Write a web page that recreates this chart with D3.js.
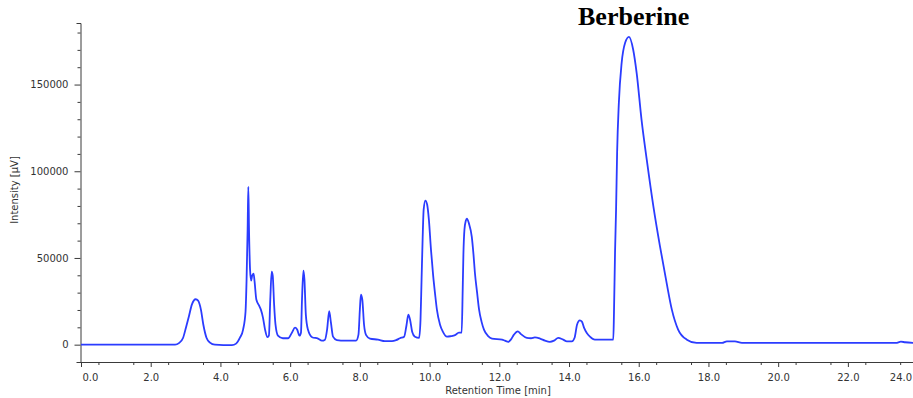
<!DOCTYPE html>
<html>
<head>
<meta charset="utf-8">
<script src="https://cdn.jsdelivr.net/npm/d3@7"></script>
<style>
  body { margin: 0; background: #fff; }
  svg { display: block; }
</style>
</head>
<body>
<svg id="chart" width="913" height="398"></svg>
<script>
// chromatogram: retention time (min) and intensity (µV)
const times = [0, 2.70, 2.81, 2.93, 3.01, 3.10, 3.18, 3.29, 3.36, 3.44, 3.51, 3.60, 3.70, 3.84,
  4.33, 4.45, 4.56, 4.65, 4.72, 4.75, 4.78, 4.80, 4.82, 4.85, 4.88, 4.91, 4.95, 4.98, 5.03, 5.11,
  5.16, 5.22, 5.28, 5.35, 5.39, 5.43, 5.47, 5.50, 5.54, 5.58, 5.65, 5.79, 5.94, 6.05, 6.14, 6.20,
  6.27, 6.31, 6.34, 6.38, 6.41, 6.45, 6.51, 6.63, 6.80, 6.91, 7.00, 7.06, 7.12, 7.17, 7.23, 7.34,
  7.57, 7.89, 7.96, 8.00, 8.03, 8.07, 8.12, 8.18, 8.29, 8.52, 8.72, 8.92, 9.04, 9.15, 9.27, 9.34,
  9.39, 9.44, 9.50, 9.58, 9.70, 9.74, 9.77, 9.80, 9.83, 9.88, 9.93, 9.98, 10.04, 10.10, 10.16,
  10.21, 10.30, 10.38, 10.50, 10.61, 10.73, 10.84, 10.92, 10.95, 10.97, 11.00, 11.04, 11.07,
  11.13, 11.21, 11.26, 11.30, 11.36, 11.42, 11.49, 11.56, 11.68, 11.79, 12.08, 12.16, 12.26,
  12.33, 12.42, 12.53, 12.62, 12.79, 12.91, 13.02, 13.17, 13.31, 13.45, 13.57, 13.69, 13.83,
  13.94, 14.08, 14.16, 14.23, 14.31, 14.37, 14.43, 14.51, 14.60, 14.74, 15.03, 15.27, 15.29,
  15.32, 15.35, 15.38, 15.43, 15.51, 15.61, 15.72, 15.84, 15.94, 16.08, 16.23, 16.42, 16.61,
  16.80, 16.95, 17.13, 17.38, 17.66, 18.39, 18.53, 18.76, 18.96, 23.38, 23.52, 23.64, 23.87];

const intensity = [0, 0, 900, 4000, 9800, 16700, 23100, 26200, 25400, 20200, 11500, 4000, 1200, 0,
  -300, 600, 4000, 8700, 19000, 37500, 66300, 91100, 66300, 43300, 36900, 39800, 41000, 36300,
  26000, 22500, 20200, 15600, 8700, 4300, 5200, 26000, 42100, 39800, 23100, 11500, 5200, 3700,
  3700, 6900, 9800, 8700, 5200, 6900, 26000, 42700, 37500, 17300, 8700, 4300, 3500, 2300, 2900,
  8700, 19300, 12700, 4600, 2600, 2300, 2300, 5800, 20200, 28800, 26000, 11500, 5500, 3500, 2900,
  2000, 2000, 2600, 3700, 4600, 11500, 17300, 14400, 7500, 4600, 3900, 14400, 37500, 60600,
  77900, 83100, 80800, 72100, 54800, 40400, 28800, 20200, 11500, 7500, 4600, 4900, 5500, 6900,
  6900, 31700, 51900, 66300, 71500, 72700, 69800, 62300, 51900, 41500, 30600, 20200, 13300, 8700,
  4900, 3500, 2900, 2300, 1600, 2900, 5800, 7700, 6100, 3900, 3700, 4200, 3500, 2300, 1600, 2300,
  3900, 2900, 1900, 1900, 4000, 11500, 14000, 13300, 9800, 6700, 4600, 2900, 2900, 2900, 18500,
  53100, 77900, 110800, 139600, 162500, 174100, 177500, 170200, 156700, 129800, 106700, 79800,
  56700, 35600, 20200, 8700, 2900, 1000, 1000, 1900, 1900, 1000, 1000, 1700, 1400, 1000];

const xMajor = [0, 2, 4, 6, 8, 10, 12, 14, 16, 18, 20, 22, 24];
const yMajor = [0, 50000, 100000, 150000];
const peakName = "Berberine";

const svg = d3.select('#chart')
const axisColor = '#3a3a3a'

const x = d3.scaleLinear().domain([0, 24]).range([81, 917.6])
const y = d3.scaleLinear().domain([-10000, 185500]).range([362, 23])

const points = times.map((t, i) => [t, intensity[i]])

// axes
const xAxis = svg.append('g')
    .attr('transform', 'translate(0,362)')
    .call(d3.axisBottom(x).tickValues(xMajor).tickSize(5).tickSizeOuter(0)
        .tickFormat(d3.format('.1f')))
xAxis.append('g')
    .call(d3.axisBottom(x).tickValues(d3.range(0.5, 24, 1)).tickSize(3).tickFormat(''))
    .select('.domain').remove()

const yAxis = svg.append('g')
    .attr('transform', 'translate(80.5,0)')
    .call(d3.axisLeft(y).tickValues(yMajor).tickSize(6).tickSizeOuter(4).tickPadding(6)
        .tickFormat(d3.format('d')))
yAxis.append('g')
    .call(d3.axisLeft(y).tickValues(d3.range(-0, 185000, 10000).filter(v => v % 50000)).tickSize(3).tickFormat(''))
    .select('.domain').remove()

svg.selectAll('.domain, .tick line').attr('stroke', axisColor)
svg.selectAll('.tick text')
    .attr('fill', '#333')
    .style('font-family', 'DejaVu Sans, Verdana, sans-serif')
    .style('font-size', '10px')

// keep the edge labels inside the picture like the original software does
xAxis.selectAll('.tick text')
    .attr('dy', '1.05em')
    .attr('text-anchor', d => d === 0 ? 'start' : (d === 24 ? 'end' : 'middle'))
    .attr('dx', d => d === 0 ? 1 : (d === 24 ? -6 : 0))

svg.append('text')
    .attr('x', 498)
    .attr('y', 394)
    .attr('text-anchor', 'middle')
    .style('font-family', 'DejaVu Sans, Verdana, sans-serif')
    .style('font-size', '10px')
    .attr('fill', '#333')
    .text('Retention Time [min]')

svg.append('text')
    .attr('transform', 'translate(18,190) rotate(-90)')
    .attr('text-anchor', 'middle')
    .style('font-family', 'DejaVu Sans, Verdana, sans-serif')
    .style('font-size', '10px')
    .attr('fill', '#333')
    .text('Intensity [µV]')

// trace
svg.append('path')
    .datum(points)
    .attr('fill', 'none')
    .attr('stroke', '#2b3cff')
    .attr('stroke-width', 1.8)
    .attr('stroke-linejoin', 'round')
    .attr('d', d3.line().x(d => x(d[0])).y(d => y(d[1])).curve(d3.curveMonotoneX))

svg.append('text')
    .attr('x', 578)
    .attr('y', 25)
    .style('font-family', 'Liberation Serif, Times New Roman, serif')
    .style('font-weight', 'bold')
    .style('font-size', '26px')
    .attr('fill', '#000')
    .text(peakName)
</script>
</body>
</html>
